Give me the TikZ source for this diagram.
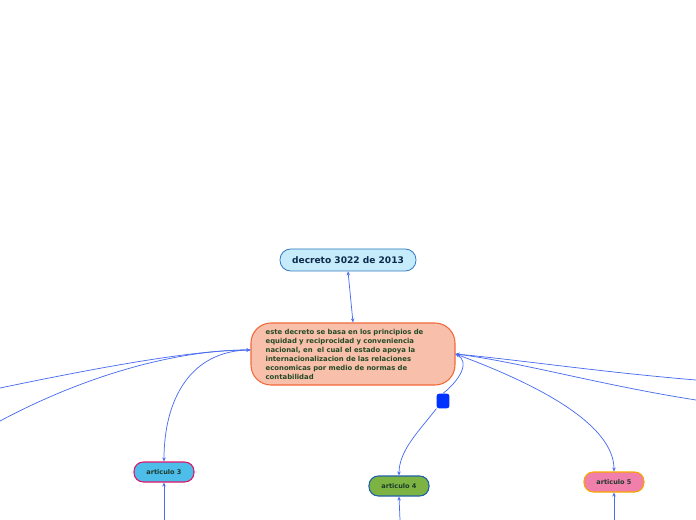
\documentclass[tikz,border=0pt]{standalone}
\usepackage{fontspec}
\setmainfont{DejaVu Sans}
\usetikzlibrary{arrows.meta}
\definecolor{conn}{HTML}{4A6CF0}
\definecolor{decfill}{HTML}{C6ECFC}
\definecolor{decdraw}{HTML}{2E78C0}
\definecolor{mainfill}{HTML}{F8BFAA}
\definecolor{maindraw}{HTML}{F06A3A}
\definecolor{athreefill}{HTML}{4DBDE9}
\definecolor{athreedraw}{HTML}{E0156A}
\definecolor{afourfill}{HTML}{7CB342}
\definecolor{afourdraw}{HTML}{2060A8}
\definecolor{afivefill}{HTML}{F17FAB}
\definecolor{afivedraw}{HTML}{F5A800}
\definecolor{sqfill}{HTML}{0033FF}
\definecolor{txtdark}{HTML}{1C3A2C}
\definecolor{dectxt}{HTML}{0D2A4A}
\definecolor{maintxt}{HTML}{234A26}
\tikzset{
  conn/.style={draw=conn, line width=0.55pt, -{Stealth[length=3pt,width=2.6pt]}},
  connboth/.style={draw=conn, line width=0.55pt, {Stealth[length=3pt,width=2.6pt]}-{Stealth[length=3pt,width=2.6pt]}},
  artbox/.style={rectangle, rounded corners=7pt, minimum width=45pt, minimum height=15pt, line width=0.8pt, inner sep=0pt, font=\bfseries\fontsize{4.9pt}{6pt}\selectfont, text=txtdark},
}
\begin{document}
\begin{tikzpicture}[x=0.75pt,y=-0.75pt]
\useasboundingbox (0,0) rectangle (696,520);
\node[rectangle, rounded corners=8pt, minimum width=102pt, minimum height=16.5pt, fill=decfill, draw=decdraw, line width=0.6pt, inner sep=0pt, font=\bfseries\fontsize{6.8pt}{8pt}\selectfont, text=dectxt] (dec) at (348,260) {decreto 3022 de 2013};
\node[rectangle, rounded corners=15pt, minimum width=153pt, minimum height=46.5pt, fill=mainfill, draw=maindraw, line width=0.8pt, inner sep=0pt, text width=131pt, align=left, font=\bfseries\fontsize{5.15pt}{6.75pt}\selectfont, text=maintxt] (main) at (353,354) {este decreto se basa en los principios de\\equidad y reciprocidad y conveniencia\\nacional, en\ \ el cual el estado apoya la\\internacionalizacion de las relaciones\\economicas por medio de normas de\\contabilidad};
\node[artbox, fill=athreefill, draw=athreedraw] (a3) at (164,472) {articulo 3};
\node[artbox, fill=afourfill, draw=afourdraw] (a4) at (399,486) {articulo 4};
\node[artbox, fill=afivefill, draw=afivedraw] (a5) at (614,482) {articulo 5};
\node[rectangle, rounded corners=1.8pt, minimum width=9.5pt, minimum height=11pt, inner sep=0pt, fill=sqfill] (sq) at (443,401) {};
\coordinate (L1) at (0,388);
\coordinate (L2) at (0,421);
\coordinate (R1) at (696,380);
\coordinate (R2) at (696,400);
\coordinate (B3) at (164,520);
\coordinate (B4) at (400,520);
\coordinate (B5) at (614,520);
% connectors
\draw[connboth] (dec.south) -- (main.north);
\draw[conn] (L1) .. controls (120,363) and (200,350) .. ([yshift=3pt]main.west);
\draw[conn] (L2) .. controls (90,373) and (180,350) .. ([yshift=3pt]main.west);
\draw[conn] ([yshift=3pt]main.west) .. controls (190,350) and (164,400) .. (a3.north);
\draw[conn] (R1) .. controls (600,372) and (520,360) .. (main.east);
\draw[conn] (R2) .. controls (600,385) and (520,362) .. (main.east);
\draw[conn] (main.east) .. controls (540,385) and (614,425) .. (a5.north);
\draw[conn] (sq.north) .. controls (460,380) and (470,362) .. (main.east);
\draw[conn] (sq.south west) .. controls (420,430) and (399,450) .. (a4.north);
\draw[conn] (B3) -- (a3.south);
\draw[conn] (B4) -- (a4.south);
\draw[conn] (B5) -- (a5.south);
\end{tikzpicture}
\end{document}
